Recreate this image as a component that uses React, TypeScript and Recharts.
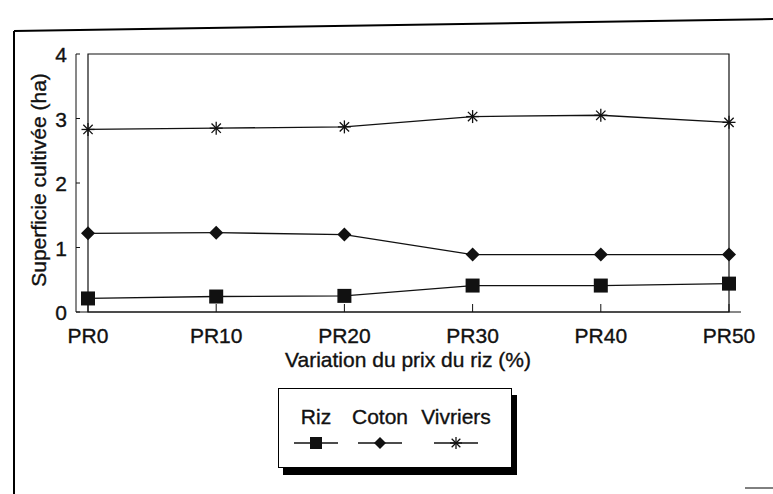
import { LineChart, Line, XAxis, YAxis, Legend, ReferenceArea } from 'recharts'

const CATEGORIES = ['PR0', 'PR10', 'PR20', 'PR30', 'PR40', 'PR50']
const RIZ = [0.21, 0.24, 0.25, 0.41, 0.41, 0.44]
const COTON = [1.22, 1.23, 1.2, 0.89, 0.89, 0.89]
const VIVRIERS = [2.83, 2.85, 2.87, 3.03, 3.05, 2.94]
const Y_TICKS = [0, 1, 2, 3, 4]
const SERIES_NAMES = ['Riz', 'Coton', 'Vivriers']

const FONT = '"Liberation Sans", Arial, sans-serif'
const INK = '#111'

const data = CATEGORIES.map((cat, i) => ({
  cat,
  riz: RIZ[i],
  coton: COTON[i],
  vivriers: VIVRIERS[i],
}))

// markers: sizes kept in the component, recharts passes its own r
function SquareDot({ cx, cy, small }: any) {
  if (cx == null || cy == null) return null
  const s = small ? 12 : 14
  return <rect x={cx - s / 2} y={cy - s / 2} width={s} height={s} fill={INK} />
}

function DiamondDot({ cx, cy, small }: any) {
  if (cx == null || cy == null) return null
  const h = small ? 6 : 7
  return <path d={`M${cx},${cy - h} L${cx + h},${cy} L${cx},${cy + h} L${cx - h},${cy} Z`} fill={INK} />
}

function StarDot({ cx, cy, small }: any) {
  if (cx == null || cy == null) return null
  const h = small ? 6 : 6.5
  const d = h * 0.72
  return (
    <g stroke={INK} strokeWidth={1.3}>
      <line x1={cx} y1={cy - h} x2={cx} y2={cy + h} />
      <line x1={cx - d} y1={cy - d} x2={cx + d} y2={cy + d} />
      <line x1={cx - d} y1={cy + d} x2={cx + d} y2={cy - d} />
      <line x1={cx - h} y1={cy} x2={cx + h} y2={cy} />
    </g>
  )
}

const textStyle = { fontSize: 21, fill: INK, fontFamily: FONT, stroke: INK, strokeWidth: 0.35 }

function XTick({ x, y, payload }: any) {
  return (
    <g>
      <line x1={x} y1={y} x2={x} y2={y - 8} stroke={INK} />
      <text x={x} y={y + 31} textAnchor="middle" {...textStyle}>
        {payload.value}
      </text>
    </g>
  )
}

function YTick({ x, y, payload }: any) {
  return (
    <g>
      <line x1={x} y1={y} x2={x + 4} y2={y} stroke={INK} />
      <text x={x - 9} y={y + 8} textAnchor="end" {...textStyle}>
        {payload.value}
      </text>
    </g>
  )
}

function LegendBox() {
  const markers = [
    (cx: number) => <SquareDot cx={cx} cy={54} small />,
    (cx: number) => <DiamondDot cx={cx} cy={54} small />,
    (cx: number) => <StarDot cx={cx} cy={54} small />,
  ]
  const centers = [37, 101, 177]
  return (
    <div
      style={{
        width: 232,
        height: 78,
        border: '1px solid #000',
        background: '#fff',
        boxShadow: '5px 7px 0 #000',
        position: 'relative',
      }}
    >
      <svg width={232} height={78} style={{ position: 'absolute', left: 0, top: 0 }}>
        {SERIES_NAMES.map((name, i) => (
          <g key={name}>
            <text x={centers[i]} y={35} textAnchor="middle" {...textStyle}>
              {name}
            </text>
            <line x1={centers[i] - 22} y1={54} x2={centers[i] + 22} y2={54} stroke={INK} strokeWidth={1.3} />
            {markers[i](centers[i])}
          </g>
        ))}
      </svg>
    </div>
  )
}

export default function App() {
  return (
    <div style={{ position: 'fixed', left: 0, top: 0, width: 773, height: 494, background: '#fff' }}>
      <svg width={773} height={494} style={{ position: 'absolute', left: 0, top: 0 }}>
        <line x1={14} y1={31} x2={773} y2={19} stroke="#000" strokeWidth={2} />
        <line x1={14} y1={31} x2={14} y2={494} stroke="#000" strokeWidth={2} />
        <line x1={745} y1={488} x2={773} y2={488} stroke="#000" strokeWidth={1} />
      </svg>
      <div style={{ position: 'absolute', left: 0, top: 0 }}>
        <LineChart
          width={773}
          height={494}
          data={data}
          margin={{ top: 54, right: 32, bottom: 152, left: 0 }}
          style={{ fontFamily: FONT }}
        >
          <XAxis
            dataKey="cat"
            padding={{ left: 12, right: 12 }}
            height={30}
            tickSize={0}
            tickMargin={0}
            tick={<XTick />}
            axisLine={{ stroke: INK }}
            tickLine={false}
            interval={0}
            label={{
              content: () => (
                <text x={408} y={367} textAnchor="middle" {...textStyle}>
                  Variation du prix du riz (%)
                </text>
              ),
            }}
          />
          <YAxis
            domain={[0, 4]}
            ticks={Y_TICKS}
            width={76}
            tickSize={0}
            tickMargin={0}
            tick={<YTick />}
            tickLine={false}
            axisLine={{ stroke: INK }}
            label={{
              content: () => (
                <text transform="translate(46,180) rotate(-90)" textAnchor="middle" {...textStyle}>
                  Superficie cultivée (ha)
                </text>
              ),
            }}
          />
          {/* plot frame */}
          <ReferenceArea y1={0} y2={4} fill="none" stroke={INK} strokeWidth={1.2} fillOpacity={0} />
          <Line
            dataKey="riz"
            name={SERIES_NAMES[0]}
            stroke={INK}
            strokeWidth={1.3}
            dot={<SquareDot />}
            activeDot={false}
            isAnimationActive={false}
          />
          <Line
            dataKey="coton"
            name={SERIES_NAMES[1]}
            stroke={INK}
            strokeWidth={1.3}
            dot={<DiamondDot />}
            activeDot={false}
            isAnimationActive={false}
          />
          <Line
            dataKey="vivriers"
            name={SERIES_NAMES[2]}
            stroke={INK}
            strokeWidth={1.3}
            dot={<StarDot />}
            activeDot={false}
            isAnimationActive={false}
          />
          <Legend
            layout="horizontal"
            verticalAlign="middle"
            align="center"
            content={() => <LegendBox />}
            wrapperStyle={{ left: 278, top: 388, width: 240, height: 90 }}
          />
        </LineChart>
      </div>
    </div>
  )
}
